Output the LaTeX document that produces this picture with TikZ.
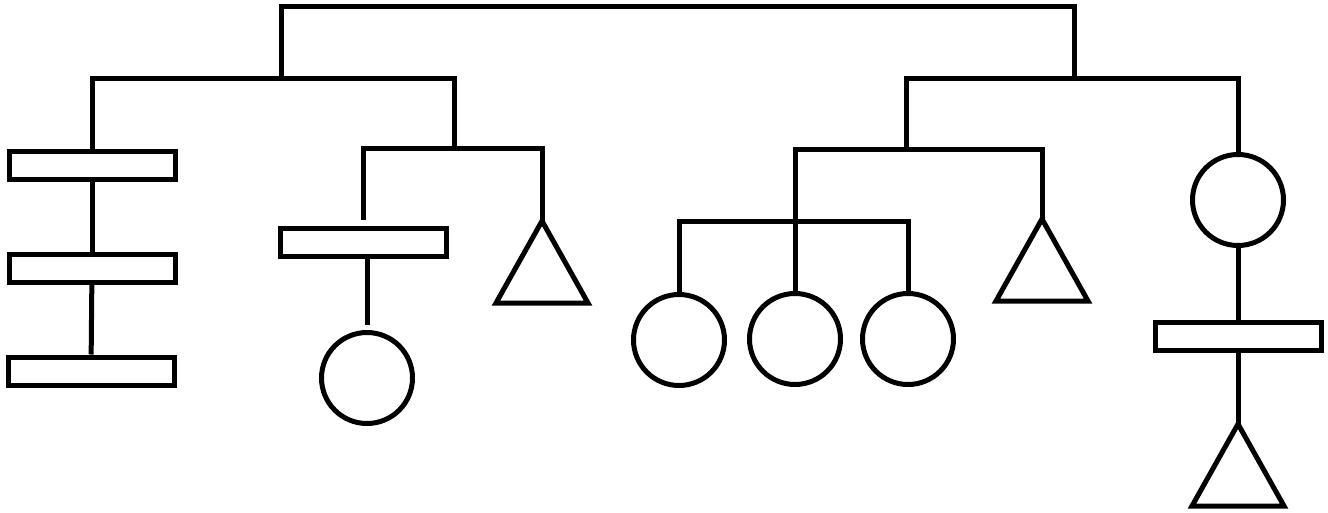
\documentclass[tikz,border=0pt]{standalone}
\usepackage{tikz}
\usetikzlibrary{shapes.geometric}
\usetikzlibrary{positioning}
\tikzset{
  plank/.style={draw, rectangle, minimum width=166pt, minimum height=28pt, inner sep=0pt},
  ball/.style={draw, circle, minimum size=91pt, inner sep=0pt},
  cone/.style={draw, isosceles triangle, isosceles triangle stretches,
               shape border rotate=90, minimum width=92pt, minimum height=82pt,
               inner sep=0pt, outer sep=0pt, anchor=apex},
}

\begin{document}
\begin{tikzpicture}[x=1pt, y=-1pt, line width=5pt]
    \useasboundingbox (0,0) rectangle (1328,512);

    \node[plank] (plank1) at (92,165) {};
    \node[plank] (plank2) at (92,268) {};
    \node[plank] (plank3) at (91,371) {};
    \node[plank] (plank4) at (363,242) {};
    \node[ball]  (ball1)  at (367,378) {};
    \node[cone]  (cone1)  at (542,221) {};

    \node[ball]  (ball2)  at (679,340) {};
    \node[ball]  (ball3)  at (795,339) {};
    \node[ball]  (ball4)  at (908,339) {};
    \node[cone]  (cone2)  at (1042,219) {};
    \node[ball]  (ball5)  at (1238,200) {};
    \node[plank] (plank5) at (1238,336) {};
    \node[cone]  (cone3)  at (1238,424) {};

    \coordinate (topL) at (281,6);
    \coordinate (topR) at (1074,6);
    \coordinate (aL) at (92,78);
    \coordinate (aM) at (281,78);
    \coordinate (aR) at (454,78);
    \coordinate (bL) at (363,148);
    \coordinate (bM) at (454,148);
    \coordinate (bR) at (542,148);
    \coordinate (cL) at (906,78);
    \coordinate (cM) at (1074,78);
    \coordinate (cR) at (1238,78);
    \coordinate (dL) at (795,149);
    \coordinate (dM) at (906,149);
    \coordinate (dR) at (1042,149);
    \coordinate (eL) at (679,221);
    \coordinate (eM) at (795,221);
    \coordinate (eR) at (908,221);

    \draw (aM) -- (topL) -- (topR) -- (cM);

    \draw (plank1.north) -- (aL) -- (aR) -- (bM);
    \draw (plank1) -- (plank2);
    \draw (plank2) -- (plank3);
    \draw[shorten <=6pt] (plank4.north) -- (bL) -- (bR) -- (cone1.apex);
    \draw[shorten >=5pt] (ball1.north |- plank4.south) -- (ball1.north);

    \draw (dM) -- (cL) -- (cR) -- (ball5.north);
    \draw (eM) -- (dL) -- (dR) -- (cone2.apex);
    \draw (ball2.north) -- (eL) -- (eR) -- (ball4.north);
    \draw (eM) -- (ball3.north);
    \draw (ball5) -- (plank5);
    \draw (plank5) -- (cone3.apex);
\end{tikzpicture}
\end{document}
